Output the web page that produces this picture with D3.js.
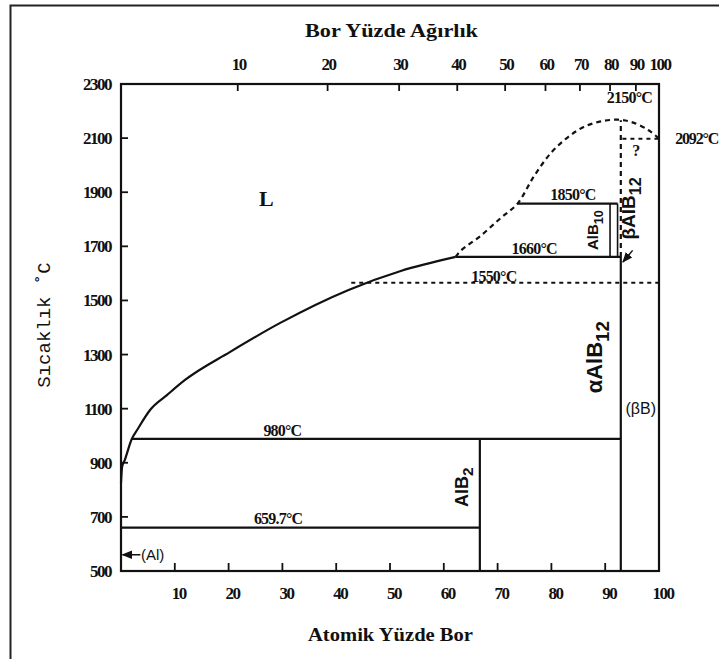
<!DOCTYPE html>
<html>
<head>
<meta charset="utf-8">
<script src="https://cdn.jsdelivr.net/npm/d3@7"></script>
<style>
body { margin:0; background:#fff; }
svg text { font-family:"Liberation Serif", "DejaVu Serif", serif; fill:#111; }
.tick { font-weight:bold; font-size:17px; letter-spacing:-1.5px; }
.title { font-weight:bold; font-size:18px; }
.lab { font-weight:bold; font-size:16px; letter-spacing:-0.8px; }
.sans { font-family:"Liberation Sans", Arial, sans-serif; }
</style>
</head>
<body>
<svg id="chart"></svg>
<script>
// axis ticks
var bottomTicks = [10,20,30,40,50,60,70,80,90]
var bottomLabels = [10,20,30,40,50,60,70,80,90,100]
var yTicks = [700,900,1100,1300,1500,1700,1900,2100]
var yLabels = [500,700,900,1100,1300,1500,1700,1900,2100,2300]
// top axis: weight % labels and where they sit in atomic %
var topLabels = [10,20,30,40,50,60,70,80,90,100]
var topAt = [21.7,38.4,51.7,62.5,71.4,78.9,85.3,90.9,95.7,100]

// liquidus (solid) [at% B, T]
var liquidus = [[0,825],[0.2,884],[0.7,910],[2.0,988],[3.0,1021],[5.4,1095],[8.6,1151],
                [11.9,1206],[20.3,1310],[29.6,1417],[42.3,1539],[52,1609],[62.2,1661]]
// liquidus (dashed, uncertain)
var dome = [[62.2,1661],[63.1,1683],[66.9,1740],[70.6,1805],[73.7,1858],[76.7,1957],[79.9,2045],
            [83.1,2104],[86.0,2141],[89.2,2162],[92.4,2168],[94.8,2160],[98.0,2130],[100,2098]]

var isotherms = [
    {t:660, a0:0, a1:66.7},
    {t:988, a0:2.0, a1:92.9},
    {t:1661, a0:62.2, a1:92.9},
    {t:1858, a0:73.7, a1:92.3}
]
var dashedIsotherms = [
    {t:1565, a0:42.8, a1:100},
    {t:2098, a0:93.2, a1:100}
]
var verticals = [
    {a:66.7, t0:500, t1:988},
    {a:92.9, t0:500, t1:1661},
    {a:90.9, t0:1661, t1:1858},
    {a:92.3, t0:1661, t1:1858}
]
var dashedVerticals = [
    {a:92.9, t0:1661, t1:2166}
]

var tempLabels = [
    {text:"2150°C", a:94.5, t:2228},
    {text:"1850°C", a:84.0, t:1870},
    {text:"1660°C", a:76.8, t:1672},
    {text:"1550°C", a:69.3, t:1570},
    {text:"980°C", a:30.0, t:1000},
    {text:"659.7°C", a:29.2, t:672}
]

var svg = d3.select("#chart")
    .attr("width",719)
    .attr("height",659)

var x = d3.scaleLinear().domain([0,100]).range([121,659])
var y = d3.scaleLinear().domain([500,2300]).range([571,84])

// outer border (top and left visible)
svg.append("path")
    .attr("d","M10.5,659 L10.5,5.5 L719,5.5")
    .attr("fill","none")
    .attr("stroke","#222")
    .attr("stroke-width",2)

var marker = svg.append("defs").append("marker")
    .attr("id","arr")
    .attr("viewBox","0 0 10 10")
    .attr("refX",9).attr("refY",5)
    .attr("markerWidth",7).attr("markerHeight",7)
    .attr("orient","auto")
marker.append("path").attr("d","M0,1 L10,5 L0,9 Z").attr("fill","#111")

// frame
svg.append("rect")
    .attr("x",x(0)).attr("y",y(2300))
    .attr("width",x(100)-x(0)).attr("height",y(500)-y(2300))
    .attr("fill","none").attr("stroke","#111").attr("stroke-width",2.2)

// ticks
svg.selectAll(".bt").data(bottomTicks).enter().append("line")
    .attr("x1",function(d){return x(d)}).attr("x2",function(d){return x(d)})
    .attr("y1",y(500)).attr("y2",y(500)-8)
    .attr("stroke","#111").attr("stroke-width",1.8)

svg.selectAll(".tt").data(topAt.slice(0,9)).enter().append("line")
    .attr("x1",function(d){return x(d)}).attr("x2",function(d){return x(d)})
    .attr("y1",y(2300)).attr("y2",y(2300)+7)
    .attr("stroke","#111").attr("stroke-width",1.8)

svg.selectAll(".yt").data(yTicks).enter().append("line")
    .attr("x1",x(0)).attr("x2",x(0)+7)
    .attr("y1",function(d){return y(d)}).attr("y2",function(d){return y(d)})
    .attr("stroke","#111").attr("stroke-width",1.8)

// tick labels
svg.selectAll(".bl").data(bottomLabels).enter().append("text")
    .attr("class","tick")
    .attr("x",function(d){return x(d)+4})
    .attr("y",599)
    .attr("text-anchor","middle")
    .text(function(d){return d})

svg.selectAll(".tl").data(topLabels).enter().append("text")
    .attr("class","tick")
    .attr("x",function(d,i){return x(topAt[i])+1})
    .attr("y",70)
    .attr("text-anchor","middle")
    .text(function(d){return d})

svg.selectAll(".yl").data(yLabels).enter().append("text")
    .attr("class","tick")
    .attr("x",111)
    .attr("y",function(d){return y(d)+6})
    .attr("text-anchor","end")
    .text(function(d){return d})

// titles
svg.append("text").attr("class","title")
    .attr("x",305).attr("y",37)
    .attr("textLength",173).attr("lengthAdjust","spacingAndGlyphs")
    .text("Bor Yüzde Ağırlık")
svg.append("text").attr("class","title")
    .attr("x",308).attr("y",641)
    .attr("textLength",165).attr("lengthAdjust","spacingAndGlyphs")
    .text("Atomik Yüzde Bor")
svg.append("text")
    .attr("transform","translate(50,325) rotate(-90)")
    .attr("text-anchor","middle")
    .style("font-family","'Liberation Mono', monospace")
    .style("font-size","19px")
    .text("Sıcaklık ˚C")

// phase boundaries
var line = d3.line()
    .x(function(d){return x(d[0])})
    .y(function(d){return y(d[1])})
    .curve(d3.curveMonotoneX)

svg.append("path").datum(liquidus)
    .attr("d",line).attr("fill","none")
    .attr("stroke","#111").attr("stroke-width",2.2)

svg.append("path").datum(dome)
    .attr("d",d3.line().x(function(d){return x(d[0])}).y(function(d){return y(d[1])}).curve(d3.curveCatmullRom))
    .attr("fill","none")
    .attr("stroke","#111").attr("stroke-width",2.2).attr("stroke-dasharray","5,4")

svg.selectAll(".iso").data(isotherms).enter().append("line")
    .attr("x1",function(d){return x(d.a0)}).attr("x2",function(d){return x(d.a1)})
    .attr("y1",function(d){return y(d.t)}).attr("y2",function(d){return y(d.t)})
    .attr("stroke","#111").attr("stroke-width",2.2)

svg.selectAll(".diso").data(dashedIsotherms).enter().append("line")
    .attr("x1",function(d){return x(d.a0)}).attr("x2",function(d){return x(d.a1)})
    .attr("y1",function(d){return y(d.t)}).attr("y2",function(d){return y(d.t)})
    .attr("stroke","#111").attr("stroke-width",2).attr("stroke-dasharray","4,4")

svg.selectAll(".vert").data(verticals).enter().append("line")
    .attr("x1",function(d){return x(d.a)}).attr("x2",function(d){return x(d.a)})
    .attr("y1",function(d){return y(d.t0)}).attr("y2",function(d){return y(d.t1)})
    .attr("stroke","#111").attr("stroke-width",function(d,i){return i<2 ? 2.2 : 1.6})

svg.selectAll(".dvert").data(dashedVerticals).enter().append("line")
    .attr("x1",function(d){return x(d.a)}).attr("x2",function(d){return x(d.a)})
    .attr("y1",function(d){return y(d.t0)}).attr("y2",function(d){return y(d.t1)})
    .attr("stroke","#111").attr("stroke-width",2.2).attr("stroke-dasharray","5,4")

// temperature labels
svg.selectAll(".tlab").data(tempLabels).enter().append("text")
    .attr("class","lab")
    .attr("x",function(d){return x(d.a)})
    .attr("y",function(d){return y(d.t)})
    .attr("text-anchor","middle")
    .text(function(d){return d.text})

svg.append("text").attr("class","lab")
    .attr("x",718).attr("y",y(2080))
    .attr("text-anchor","end")
    .style("letter-spacing","-1.2px")
    .text("2092°C")

svg.append("text").attr("class","lab")
    .attr("x",x(95.7)).attr("y",y(2035)).attr("text-anchor","middle")
    .text("?")

svg.append("text")
    .attr("x",x(27)).attr("y",y(1850))
    .attr("text-anchor","middle")
    .style("font-weight","bold").style("font-size","22px")
    .text("L")

// rotated phase names
var rotLabel = function(cx,cy,base,sub,size)
{
    var t = svg.append("text")
        .attr("class","sans")
        .attr("transform","translate("+cx+","+cy+") rotate(-90)")
        .attr("text-anchor","middle")
        .style("font-size",size+"px")
        .style("font-weight","bold")
    t.append("tspan").text(base)
    t.append("tspan").attr("dy",size*0.3).style("font-size",(size*0.85)+"px").text(sub)
}
rotLabel(x(88.7),y(1760),"AlB","10",15)
rotLabel(x(95.6),y(1840),"βAlB","12",19)
rotLabel(x(89.4),y(1290),"αAlB","12",22)
rotLabel(x(64.5),y(810),"AlB","2",18)

svg.append("text").attr("class","sans")
    .attr("x",x(96.6)).attr("y",y(1080)).attr("text-anchor","middle")
    .style("font-size","16px")
    .text("(βB)")

// arrows
svg.append("line")
    .attr("x1",x(95.1)).attr("y1",y(1685))
    .attr("x2",x(93.3)).attr("y2",y(1642))
    .attr("stroke","#111").attr("stroke-width",1.5)
    .attr("marker-end","url(#arr)")

svg.append("line")
    .attr("x1",x(3.6)).attr("y1",y(560))
    .attr("x2",x(0.3)).attr("y2",y(560))
    .attr("stroke","#111").attr("stroke-width",1.5)
    .attr("marker-end","url(#arr)")

svg.append("text").attr("class","sans")
    .attr("x",x(3.7)).attr("y",y(541))
    .style("font-size","15px")
    .text("(Al)")
</script>
</body>
</html>
